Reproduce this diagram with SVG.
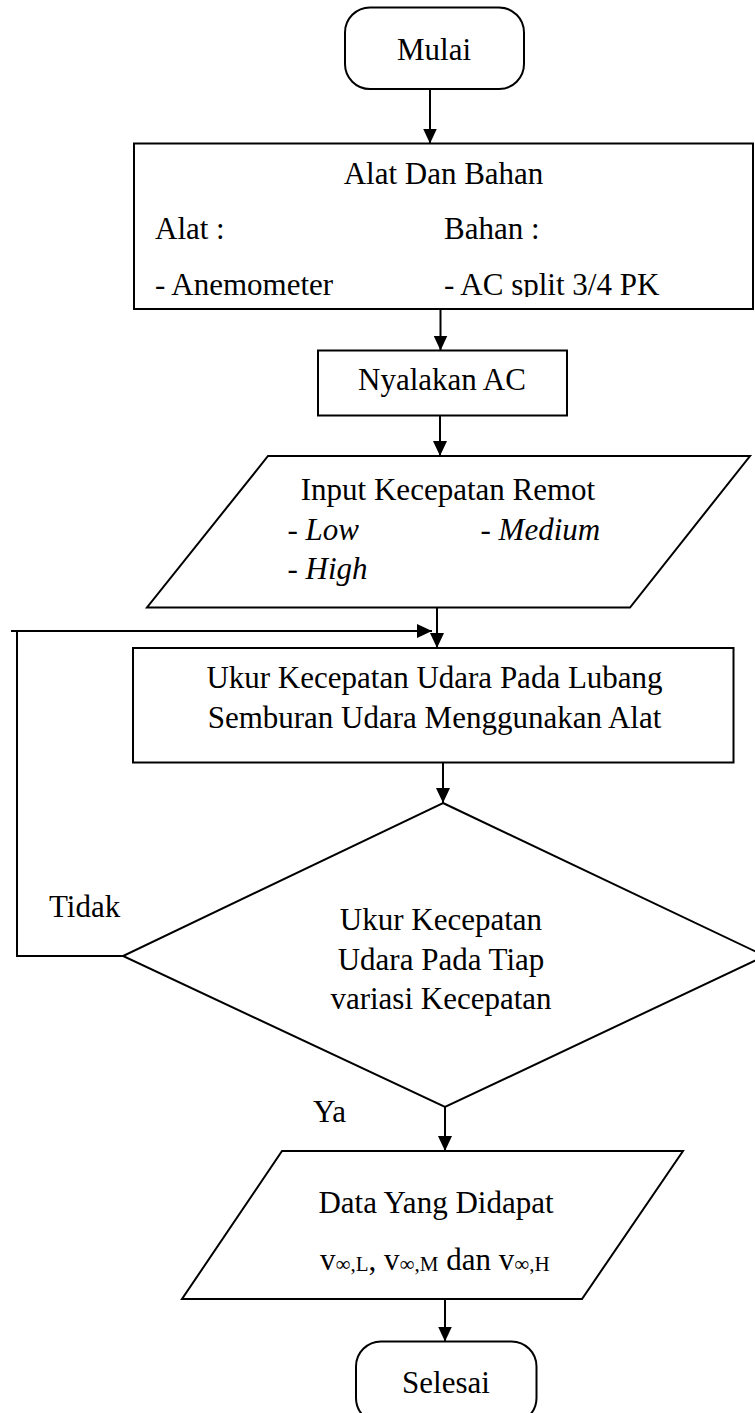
<svg xmlns="http://www.w3.org/2000/svg" width="755" height="1413" viewBox="0 0 755 1413">
<style>
.s{fill:#fff;stroke:#000;stroke-width:2}
.c{fill:none;stroke:#000;stroke-width:2}
text{font-family:"Liberation Serif","Times New Roman",serif;font-size:31px;fill:#000}
.m{text-anchor:middle}
.i{font-style:italic}
.sub{font-size:21px}
</style>
<defs>
<marker id="ah" viewBox="0 0 15 14" markerUnits="userSpaceOnUse" markerWidth="15" markerHeight="14" refX="15" refY="7" orient="auto">
<path d="M0,0 L15,7 L0,14 z" fill="#000"/>
</marker>
<clipPath id="clipRow"><rect x="134" y="144" width="619" height="153"/></clipPath>
</defs>
<rect width="755" height="1413" fill="#fff"/>
<g id="connectors">
<path class="c" d="M430,89 V143.5" marker-end="url(#ah)"/>
<path class="c" d="M440.5,309 V350.5" marker-end="url(#ah)"/>
<path class="c" d="M440,415.5 V456" marker-end="url(#ah)"/>
<path class="c" d="M437,607.5 V648" marker-end="url(#ah)"/>
<path class="c" d="M443,762.5 V803" marker-end="url(#ah)"/>
<path class="c" d="M445,1107 V1151" marker-end="url(#ah)"/>
<path class="c" d="M445,1299 V1341.5" marker-end="url(#ah)"/>
<path class="c" d="M123,956 H17 V631"/>
<path class="c" d="M11,631 H432" marker-end="url(#ah)"/>
</g>
<g id="mulai">
<rect class="s" x="345" y="7.5" width="179" height="81.5" rx="25" ry="25"/>
<text class="m" x="434" y="60">Mulai</text>
</g>
<g id="alat-bahan">
<rect class="s" x="134" y="143.5" width="619" height="165.5"/>
<text class="m" x="443.5" y="184">Alat Dan Bahan</text>
<text x="155" y="239">Alat :</text>
<text x="444" y="239">Bahan :</text>
<g clip-path="url(#clipRow)">
<text x="155" y="295">- Anemometer</text>
<text x="444" y="295">- AC split 3/4 PK</text>
</g>
</g>
<g id="nyalakan">
<rect class="s" x="318" y="350.5" width="249" height="65"/>
<text class="m" x="442" y="390">Nyalakan AC</text>
</g>
<g id="input">
<polygon class="s" points="268,456 750,456 630,607.5 147,607.5"/>
<text class="m" x="448" y="500">Input Kecepatan Remot</text>
<text x="287.5" y="540">- <tspan class="i">Low</tspan></text>
<text x="480.5" y="540">- <tspan class="i">Medium</tspan></text>
<text x="287.5" y="579">- <tspan class="i">High</tspan></text>
</g>
<g id="ukur">
<rect class="s" x="133" y="648" width="600.5" height="114.5"/>
<text class="m" x="434.5" y="688">Ukur Kecepatan Udara Pada Lubang</text>
<text class="m" x="434.5" y="728">Semburan Udara Menggunakan Alat</text>
</g>
<g id="decision">
<polygon class="s" points="443,803 765,956 445,1107 123,956"/>
<text class="m" x="441" y="930">Ukur Kecepatan</text>
<text class="m" x="441" y="970">Udara Pada Tiap</text>
<text class="m" x="441" y="1009">variasi Kecepatan</text>
</g>
<g id="labels">
<text x="49" y="917">Tidak</text>
<text x="313" y="1122">Ya</text>
</g>
<g id="data">
<polygon class="s" points="282,1151 683,1151 582,1299 182,1299"/>
<text class="m" x="436" y="1212.5">Data Yang Didapat</text>
<text x="320" y="1270">v<tspan class="sub" dy="1">∞,L</tspan><tspan dy="-1">, v</tspan><tspan class="sub" dy="1">∞,M</tspan><tspan dy="-1"> dan v</tspan><tspan class="sub" dy="1">∞,H</tspan></text>
</g>
<g id="selesai">
<rect class="s" x="356" y="1341.5" width="180.5" height="81.5" rx="25" ry="25"/>
<text class="m" x="446" y="1393">Selesai</text>
</g>
</svg>
